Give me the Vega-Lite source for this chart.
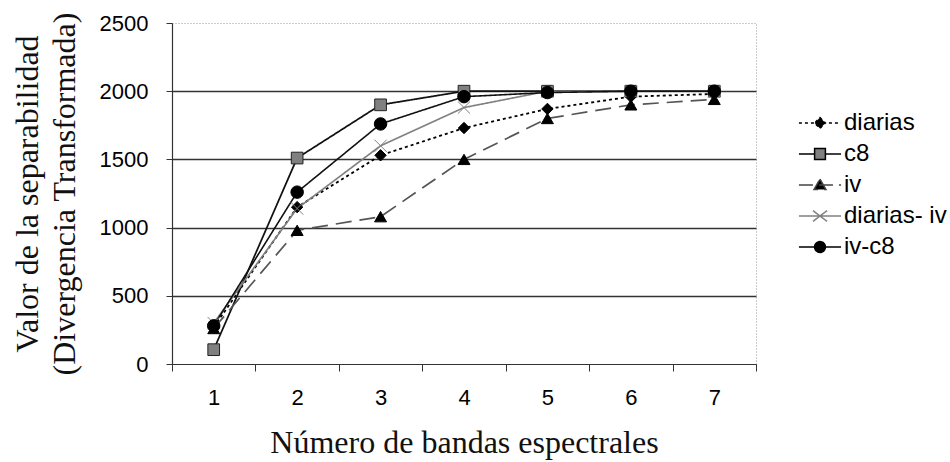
{
  "$schema": "https://vega.github.io/schema/vega-lite/v6.json",
  "width": 584,
  "height": 341,
  "autosize": "none",
  "padding": {"left": 172, "top": 23, "right": 194, "bottom": 98},
  "background": "white",
  "config": {
    "view": {"stroke": "#999", "strokeDash": [1, 2], "strokeWidth": 1},
    "axis": {"labelFont": "Liberation Sans", "labelFontSize": 22, "labelColor": "#000", "titleFont": "Liberation Serif", "titleFontWeight": "normal", "titleColor": "#111", "domainColor": "#333", "tickColor": "#333"},
    "legend": {"symbolFillColor": "#000000", "symbolStrokeColor": "#000000"}
  },
  "data": {
    "values": [
      {"serie": "diarias", "bandas": 1, "valor": 270},
      {"serie": "diarias", "bandas": 2, "valor": 1150},
      {"serie": "diarias", "bandas": 3, "valor": 1530},
      {"serie": "diarias", "bandas": 4, "valor": 1730},
      {"serie": "diarias", "bandas": 5, "valor": 1870},
      {"serie": "diarias", "bandas": 6, "valor": 1960},
      {"serie": "diarias", "bandas": 7, "valor": 1980},
      {"serie": "c8", "bandas": 1, "valor": 105},
      {"serie": "c8", "bandas": 2, "valor": 1510},
      {"serie": "c8", "bandas": 3, "valor": 1900},
      {"serie": "c8", "bandas": 4, "valor": 2000},
      {"serie": "c8", "bandas": 5, "valor": 2000},
      {"serie": "c8", "bandas": 6, "valor": 2000},
      {"serie": "c8", "bandas": 7, "valor": 2000},
      {"serie": "iv", "bandas": 1, "valor": 260},
      {"serie": "iv", "bandas": 2, "valor": 980},
      {"serie": "iv", "bandas": 3, "valor": 1080},
      {"serie": "iv", "bandas": 4, "valor": 1500},
      {"serie": "iv", "bandas": 5, "valor": 1800},
      {"serie": "iv", "bandas": 6, "valor": 1900},
      {"serie": "iv", "bandas": 7, "valor": 1940},
      {"serie": "diarias- iv", "bandas": 1, "valor": 300},
      {"serie": "diarias- iv", "bandas": 2, "valor": 1140},
      {"serie": "diarias- iv", "bandas": 3, "valor": 1600},
      {"serie": "diarias- iv", "bandas": 4, "valor": 1880},
      {"serie": "diarias- iv", "bandas": 5, "valor": 2000},
      {"serie": "diarias- iv", "bandas": 6, "valor": 2000},
      {"serie": "diarias- iv", "bandas": 7, "valor": 2000},
      {"serie": "iv-c8", "bandas": 1, "valor": 280},
      {"serie": "iv-c8", "bandas": 2, "valor": 1260},
      {"serie": "iv-c8", "bandas": 3, "valor": 1760},
      {"serie": "iv-c8", "bandas": 4, "valor": 1960},
      {"serie": "iv-c8", "bandas": 5, "valor": 1990},
      {"serie": "iv-c8", "bandas": 6, "valor": 2000},
      {"serie": "iv-c8", "bandas": 7, "valor": 2000}
    ]
  },
  "encoding": {
    "x": {
      "field": "bandas", "type": "ordinal",
      "scale": {"type": "band", "paddingInner": 0, "paddingOuter": 0},
      "axis": {"title": "Número de bandas espectrales", "titleFontSize": 32, "titlePadding": 19, "labelAngle": 0, "tickBand": "extent", "tickSize": 7, "labelPadding": 16, "grid": false, "domainWidth": 1.2}
    },
    "y": {
      "field": "valor", "type": "quantitative",
      "scale": {"domain": [0, 2500], "nice": false},
      "axis": {
        "title": ["Valor de la separabilidad", "(Divergencia Transformada)"],
        "titleFontSize": 32, "titlePadding": 18, "titleLineHeight": 37,
        "values": [0, 500, 1000, 1500, 2000, 2500], "format": "d",
        "tickSize": 6, "labelPadding": 18, "domainWidth": 1.2,
        "grid": true, "gridColor": "#333", "gridWidth": 1.3,
        "gridOpacity": {"condition": {"test": "datum.value === 0 || datum.value === 2500", "value": 0}, "value": 1}
      }
    }
  },
  "layer": [
    {
      "mark": {"type": "line", "interpolate": "linear"},
      "encoding": {
        "detail": {"field": "serie"},
        "stroke": {"field": "serie", "type": "nominal", "legend": null,
          "scale": {"domain": ["diarias", "c8", "iv", "diarias- iv", "iv-c8"], "range": ["#000000", "#111111", "#555555", "#808080", "#111111"]}},
        "strokeDash": {"field": "serie", "type": "nominal", "legend": null,
          "scale": {"domain": ["diarias", "c8", "iv", "diarias- iv", "iv-c8"], "range": [[3, 3], [1, 0], [16, 8], [1, 0], [1, 0]]}},
        "strokeWidth": {"field": "serie", "type": "nominal", "legend": null,
          "scale": {"domain": ["diarias", "c8", "iv", "diarias- iv", "iv-c8"], "range": [1.8, 1.6, 3, 3, 3]}},
        "order": {"field": "bandas", "type": "quantitative"}
      }
    },
    {
      "mark": {"type": "point", "filled": true, "opacity": 1},
      "encoding": {
        "shape": {"field": "serie", "type": "nominal", "legend": null,
          "scale": {"domain": ["diarias", "c8", "iv", "diarias- iv", "iv-c8"], "range": ["diamond", "square", "triangle-up", "M-1,-1L1,1M-1,1L1,-1", "circle"]}},
        "fill": {"field": "serie", "type": "nominal", "legend": null,
          "scale": {"domain": ["diarias", "c8", "iv", "diarias- iv", "iv-c8"], "range": ["#000000", "#808080", "#000000", "transparent", "#000000"]}},
        "stroke": {"field": "serie", "type": "nominal", "legend": null,
          "scale": {"domain": ["diarias", "c8", "iv", "diarias- iv", "iv-c8"], "range": ["#000000", "#222222", "#000000", "#808080", "#000000"]}},
        "size": {"field": "serie", "type": "nominal", "legend": null,
          "scale": {"domain": ["diarias", "c8", "iv", "diarias- iv", "iv-c8"], "range": [130, 156, 180, 196, 180]}},
        "strokeWidth": {"field": "serie", "type": "nominal", "legend": null,
          "scale": {"domain": ["diarias", "c8", "iv", "diarias- iv", "iv-c8"], "range": [1, 1, 1, 1.5, 1]}}
      }
    },
    {
      "mark": {"type": "point", "filled": true, "opacity": 0, "size": 1296},
      "encoding": {
        "shape": {"field": "serie", "type": "nominal",
          "scale": {"domain": ["diarias", "c8", "iv", "diarias- iv", "iv-c8"], "range": [
            "M-1.17,0L1.17,0M0,-0.3L0.3,0L0,0.3L-0.3,0Z",
            "M-1.17,0L-0.3,0M0.3,0L1.17,0M-0.3,-0.3L0.3,-0.3L0.3,0.3L-0.3,0.3Z",
            "M-1.17,0L1.17,0M0,-0.33L0.33,0.25L-0.33,0.25Z",
            "M-1.17,0L1.17,0M-0.39,-0.3L0.39,0.3M-0.39,0.3L0.39,-0.3",
            "M-1.17,0L1.17,0M0.3,0A0.3,0.3,0,1,1,-0.3,0A0.3,0.3,0,1,1,0.3,0Z"
          ]},
          "legend": {
            "title": null, "orient": "none", "legendX": 629, "legendY": 81, "padding": 0, "rowPadding": 0, "symbolSize": 1296,
            "labelFont": "Liberation Sans", "labelFontSize": 24, "labelColor": "#000", "labelOffset": 5, "labelLimit": 200
          }
        },
        "fill": {"field": "serie", "type": "nominal",
          "scale": {"domain": ["diarias", "c8", "iv", "diarias- iv", "iv-c8"], "range": ["#000000", "#808080", "#000000", "transparent", "#000000"]}},
        "stroke": {"field": "serie", "type": "nominal",
          "scale": {"domain": ["diarias", "c8", "iv", "diarias- iv", "iv-c8"], "range": ["#000000", "#000000", "#444444", "#808080", "#000000"]}},
        "strokeDash": {"field": "serie", "type": "nominal",
          "scale": {"domain": ["diarias", "c8", "iv", "diarias- iv", "iv-c8"], "range": [[3, 3], [1, 0], [14, 6], [1, 0], [1, 0]]}},
        "strokeWidth": {"field": "serie", "type": "nominal",
          "scale": {"domain": ["diarias", "c8", "iv", "diarias- iv", "iv-c8"], "range": [1.5, 1.5, 2.5, 2.5, 2.5]}}
      }
    }
  ],
  "resolve": {"scale": {"shape": "independent", "fill": "independent", "stroke": "independent", "strokeDash": "independent", "strokeWidth": "independent", "size": "independent"}}
}
